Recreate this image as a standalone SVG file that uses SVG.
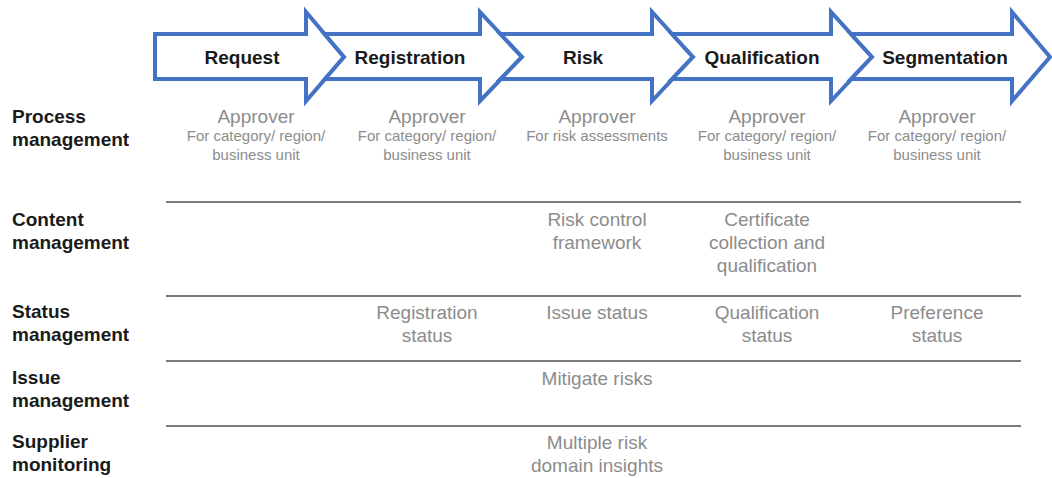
<svg xmlns="http://www.w3.org/2000/svg" width="1052" height="478" viewBox="0 0 1052 478">
<style>
.arrow{fill:#ffffff;stroke:#4472c4;stroke-width:4;stroke-linejoin:miter}
.stage{font-family:"Liberation Sans",Arial,sans-serif;font-weight:bold;font-size:19px;fill:#1a1a1a;text-anchor:middle}
.row{font-family:"Liberation Sans",Arial,sans-serif;font-weight:bold;font-size:19px;fill:#1a1a1a}
.cell{font-family:"Liberation Sans",Arial,sans-serif;font-size:19px;fill:#8c8c8c;text-anchor:middle}
.small{font-family:"Liberation Sans",Arial,sans-serif;font-size:15px;fill:#8c8c8c;text-anchor:middle}
.rule{stroke:#7a7a7a;stroke-width:2}
</style>
<rect width="1052" height="478" fill="#ffffff"/>
<g id="stages">
<g id="stage-request">
<polygon class="arrow" points="155,34 306,34 306,12 344,57 306,101 306,79 155,79"/>
<text class="stage" x="242" y="64">Request</text>
</g>
<g id="stage-registration">
<polygon class="arrow" points="324.6,34 480,34 480,12 522,57 480,101 480,79 325,79 344,57"/>
<text class="stage" x="410" y="64">Registration</text>
</g>
<g id="stage-risk">
<polygon class="arrow" points="500.5,34 652,34 652,12 693,57 652,101 652,79 500.5,79 522,57"/>
<text class="stage" x="583" y="64">Risk</text>
</g>
<g id="stage-qualification">
<polygon class="arrow" points="672,34 831,34 831,12 872,57 831,101 831,79 672,79 693,57"/>
<text class="stage" x="762" y="64">Qualification</text>
</g>
<g id="stage-segmentation">
<polygon class="arrow" points="851,34 1012,34 1012,12 1050,57 1012,101 1012,79 851,79 872,57"/>
<text class="stage" x="945" y="64">Segmentation</text>
</g>
</g>
<g id="connectors">
<line class="rule" x1="166" y1="202" x2="1021" y2="202"/>
<line class="rule" x1="166" y1="296" x2="1021" y2="296"/>
<line class="rule" x1="166" y1="361" x2="1021" y2="361"/>
<line class="rule" x1="166" y1="426" x2="1021" y2="426"/>
</g>
<g id="row-labels">
<g id="row-process"><text class="row" x="12" y="123">Process</text><text class="row" x="12" y="146">management</text></g>
<g id="row-content"><text class="row" x="12" y="226">Content</text><text class="row" x="12" y="249">management</text></g>
<g id="row-status"><text class="row" x="12" y="318">Status</text><text class="row" x="12" y="341">management</text></g>
<g id="row-issue"><text class="row" x="12" y="384">Issue</text><text class="row" x="12" y="407">management</text></g>
<g id="row-supplier"><text class="row" x="12" y="448">Supplier</text><text class="row" x="12" y="471">monitoring</text></g>
</g>
<g id="process-cells">
<g id="pm-request"><text class="cell" x="256" y="123">Approver</text><text class="small" x="256" y="141">For category/ region/</text><text class="small" x="256" y="160">business unit</text></g>
<g id="pm-registration"><text class="cell" x="427" y="123">Approver</text><text class="small" x="427" y="141">For category/ region/</text><text class="small" x="427" y="160">business unit</text></g>
<g id="pm-risk"><text class="cell" x="597" y="123">Approver</text><text class="small" x="597" y="141">For risk assessments</text></g>
<g id="pm-qualification"><text class="cell" x="767" y="123">Approver</text><text class="small" x="767" y="141">For category/ region/</text><text class="small" x="767" y="160">business unit</text></g>
<g id="pm-segmentation"><text class="cell" x="937" y="123">Approver</text><text class="small" x="937" y="141">For category/ region/</text><text class="small" x="937" y="160">business unit</text></g>
</g>
<g id="content-cells">
<g id="cm-risk"><text class="cell" x="597" y="226">Risk control</text><text class="cell" x="597" y="249">framework</text></g>
<g id="cm-qualification"><text class="cell" x="767" y="226">Certificate</text><text class="cell" x="767" y="249">collection and</text><text class="cell" x="767" y="272">qualification</text></g>
</g>
<g id="status-cells">
<g id="sm-registration"><text class="cell" x="427" y="319">Registration</text><text class="cell" x="427" y="342">status</text></g>
<g id="sm-risk"><text class="cell" x="597" y="319">Issue status</text></g>
<g id="sm-qualification"><text class="cell" x="767" y="319">Qualification</text><text class="cell" x="767" y="342">status</text></g>
<g id="sm-segmentation"><text class="cell" x="937" y="319">Preference</text><text class="cell" x="937" y="342">status</text></g>
</g>
<g id="issue-cells">
<g id="im-risk"><text class="cell" x="597" y="385">Mitigate risks</text></g>
</g>
<g id="supplier-cells">
<g id="sup-risk"><text class="cell" x="597" y="449">Multiple risk</text><text class="cell" x="597" y="472">domain insights</text></g>
</g>
</svg>
